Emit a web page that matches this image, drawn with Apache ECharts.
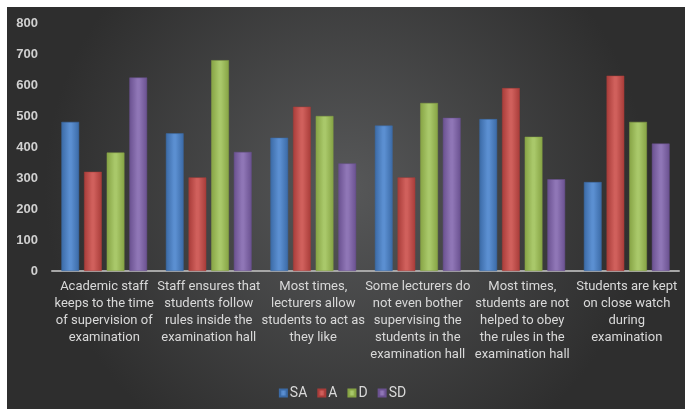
<!DOCTYPE html>
<html>
<head>
<meta charset="utf-8">
<script src="https://cdn.jsdelivr.net/npm/echarts@6/dist/echarts.min.js"></script>
<style>
html,body{margin:0;padding:0;background:#fff;}
#c{width:685px;height:409px;}
</style>
</head>
<body>
<div id="c"></div>
<script>
var categories = [
  "Academic staff\nkeeps to the time\nof supervision of\nexamination",
  "Staff ensures that\nstudents follow\nrules inside the\nexamination hall",
  "Most times,\nlecturers allow\nstudents to act as\nthey like",
  "Some lecturers do\nnot even bother\nsupervising the\nstudents in the\nexamination hall",
  "Most times,\nstudents are not\nhelped to obey\nthe rules in the\nexamination hall",
  "Students are kept\non close watch\nduring\nexamination"
];
var seriesNames = ["SA", "A", "D", "SD"];
var SA = [481, 444, 430, 469, 490, 287];
var A  = [320, 302, 530, 302, 590, 630];
var D  = [382, 680, 500, 542, 433, 481];
var SD = [624, 384, 347, 494, 296, 411];
var yTicks = [0, 100, 200, 300, 400, 500, 600, 700, 800];

var FONT = "Roboto,'Noto Sans',sans-serif";
var palette = [
  {dark:'#3b6aa6', mid:'#5b8fd1'},
  {dark:'#a83c39', mid:'#d0605c'},
  {dark:'#86a344', mid:'#a9c86a'},
  {dark:'#6a5190', mid:'#8f76b6'}
];
function grad(p){
  return new echarts.graphic.LinearGradient(0,0,1,0,[
    {offset:0,color:p.dark},{offset:0.45,color:p.mid},{offset:0.55,color:p.mid},{offset:1,color:p.dark}
  ]);
}
var data = [SA, A, D, SD];
var chart = echarts.init(document.getElementById('c'));
var series = data.map(function(d,i){
  return {
    name: seriesNames[i], type:'bar', data:d,
    barGap:'28%', barCategoryGap:'18%',
    itemStyle:{color:grad(palette[i]), borderColor:palette[i].dark, borderWidth:0.5},
    emphasis:{disabled:true}
  };
});
chart.setOption({
  animation:false,
  color: palette.map(function(p){return p.mid;}),
  graphic:[{
    type:'rect', left:7, top:7, z:-10, silent:true,
    shape:{width:678, height:402},
    style:{fill:new echarts.graphic.RadialGradient(0.5,0.45,0.75,[
      {offset:0,color:'#575859'},{offset:1,color:'#2e2e2e'}
    ])}
  }],
  grid:{left:52, right:6, top:23, bottom:138, containLabel:false},
  legend:{
    data:seriesNames, top:381, left:'center',
    icon:'rect', itemWidth:7, itemHeight:7, itemGap:10,
    textStyle:{color:'#d9d9d9', fontSize:14, fontFamily:FONT, padding:[0,0,0,-2]}
  },
  xAxis:{
    type:'category', data:categories,
    axisLine:{lineStyle:{color:'#a6a6a6', width:2}},
    axisTick:{show:false},
    axisLabel:{color:'#d9d9d9', fontSize:13, fontFamily:FONT, lineHeight:17, margin:7, interval:0, verticalAlign:'top'}
  },
  yAxis:{
    type:'value', min:yTicks[0], max:yTicks[yTicks.length-1], interval:100,
    splitLine:{show:false}, axisLine:{show:false}, axisTick:{show:false},
    axisLabel:{color:'#d0d0d0', fontSize:13, fontWeight:'bold', fontFamily:"'Liberation Sans','Noto Sans',sans-serif", margin:14}
  },
  series:series
});
</script>
</body>
</html>
